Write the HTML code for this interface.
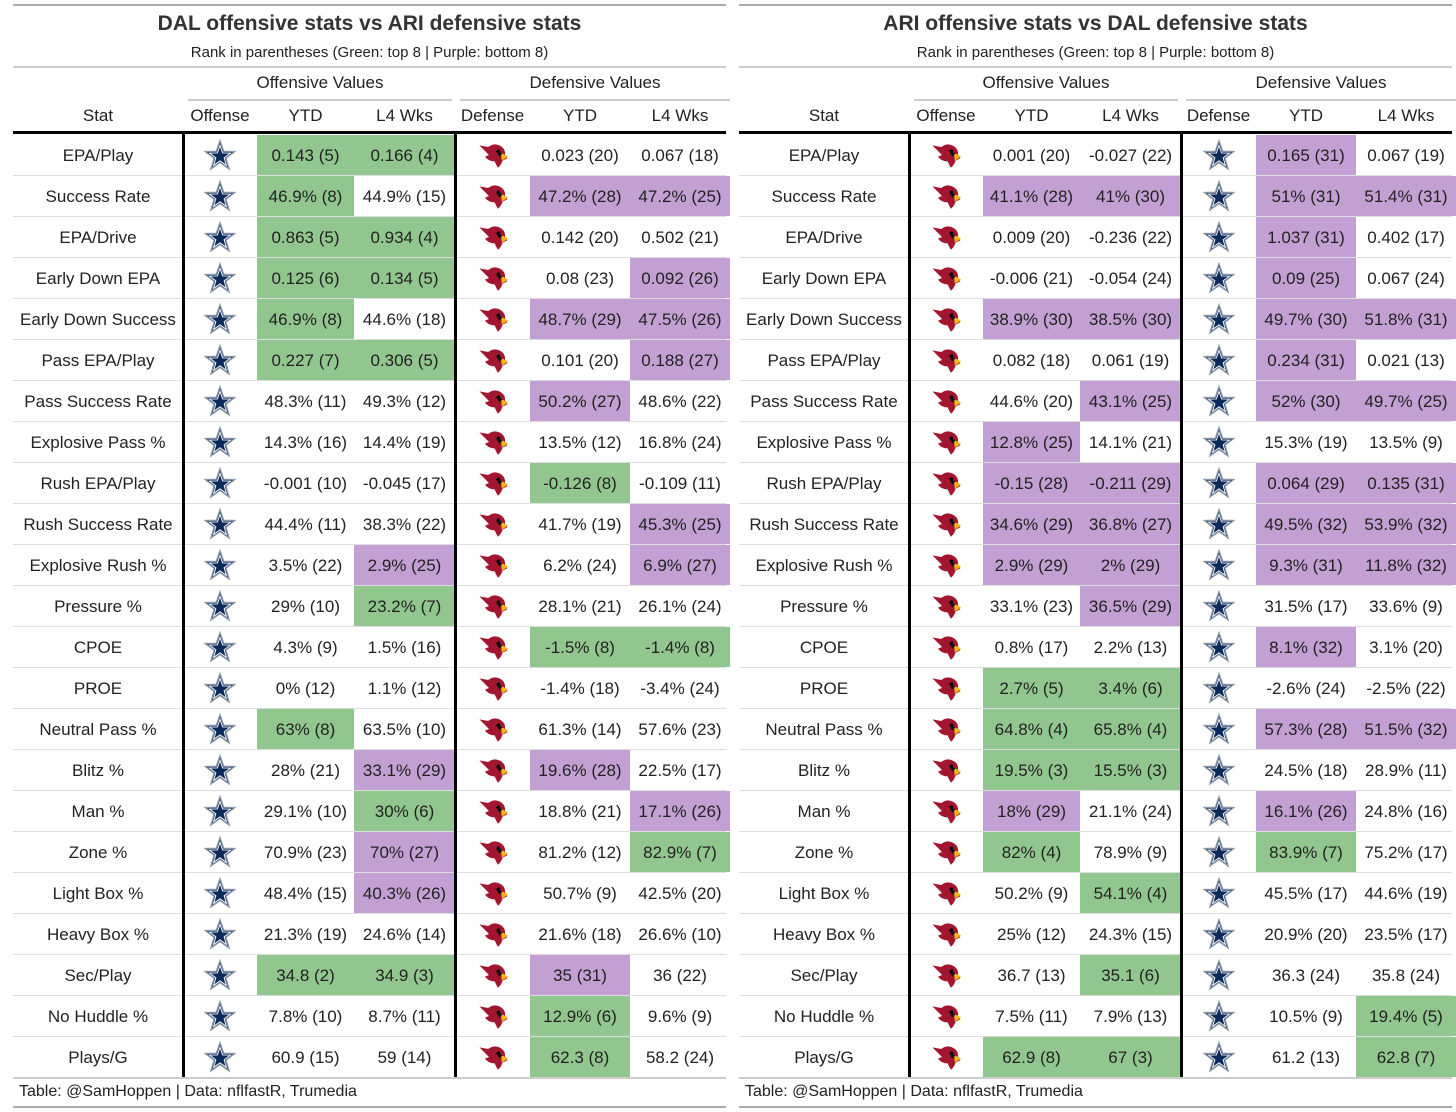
<!DOCTYPE html>
<html><head><meta charset="utf-8">
<style>
body{margin:0;width:1456px;height:1112px;background:#fff;overflow:hidden;font-family:"Liberation Sans",sans-serif;color:#222;position:relative}
.a{position:absolute;box-sizing:border-box}
.t{display:flex;align-items:center;justify-content:center;white-space:nowrap}
</style></head><body>
<svg width="0" height="0" style="position:absolute">
<defs>
<symbol id="star" viewBox="0 0 40 40"><polygon points="20,2 24.6,15.3 38.6,15.6 27.4,24.1 31.5,37.6 20,29.5 8.5,37.6 12.6,24.1 1.4,15.6 15.4,15.3" fill="#0b2a5b" stroke="#8a97a8" stroke-width="1.6"/><polygon points="20,8 23.2,17.4 33,17.6 25.2,23.5 28,33 20,27.3 12,33 14.8,23.5 7,17.6 16.8,17.4" fill="none" stroke="#fff" stroke-width="1.2"/></symbol>
<symbol id="card" viewBox="0 0 40 40"><path d="M3,8 L14,10 Q22,4 30,9 Q36,13 35,20 L38,24 L32,27 Q30,33 26,36 L22,28 Q14,28 10,22 L15,20 Z" fill="#a3162f"/><path d="M30,17 L39,22 L31,27 Z" fill="#f2b51a"/><circle cx="27" cy="15" r="2" fill="#000"/><path d="M23,14 L32,18 L28,22 Z" fill="#111"/></symbol>
</defs></svg>
<script>
const stats=["EPA/Play","Success Rate","EPA/Drive","Early Down EPA","Early Down Success","Pass EPA/Play","Pass Success Rate","Explosive Pass %","Rush EPA/Play","Rush Success Rate","Explosive Rush %","Pressure %","CPOE","PROE","Neutral Pass %","Blitz %","Man %","Zone %","Light Box %","Heavy Box %","Sec/Play","No Huddle %","Plays/G"];
const dalOffYtd=["0.143 (5)","46.9% (8)","0.863 (5)","0.125 (6)","46.9% (8)","0.227 (7)","48.3% (11)","14.3% (16)","-0.001 (10)","44.4% (11)","3.5% (22)","29% (10)","4.3% (9)","0% (12)","63% (8)","28% (21)","29.1% (10)","70.9% (23)","48.4% (15)","21.3% (19)","34.8 (2)","7.8% (10)","60.9 (15)"];
const dalOffL4=["0.166 (4)","44.9% (15)","0.934 (4)","0.134 (5)","44.6% (18)","0.306 (5)","49.3% (12)","14.4% (19)","-0.045 (17)","38.3% (22)","2.9% (25)","23.2% (7)","1.5% (16)","1.1% (12)","63.5% (10)","33.1% (29)","30% (6)","70% (27)","40.3% (26)","24.6% (14)","34.9 (3)","8.7% (11)","59 (14)"];
const ariDefYtd=["0.023 (20)","47.2% (28)","0.142 (20)","0.08 (23)","48.7% (29)","0.101 (20)","50.2% (27)","13.5% (12)","-0.126 (8)","41.7% (19)","6.2% (24)","28.1% (21)","-1.5% (8)","-1.4% (18)","61.3% (14)","19.6% (28)","18.8% (21)","81.2% (12)","50.7% (9)","21.6% (18)","35 (31)","12.9% (6)","62.3 (8)"];
const ariDefL4=["0.067 (18)","47.2% (25)","0.502 (21)","0.092 (26)","47.5% (26)","0.188 (27)","48.6% (22)","16.8% (24)","-0.109 (11)","45.3% (25)","6.9% (27)","26.1% (24)","-1.4% (8)","-3.4% (24)","57.6% (23)","22.5% (17)","17.1% (26)","82.9% (7)","42.5% (20)","26.6% (10)","36 (22)","9.6% (9)","58.2 (24)"];
const ariOffYtd=["0.001 (20)","41.1% (28)","0.009 (20)","-0.006 (21)","38.9% (30)","0.082 (18)","44.6% (20)","12.8% (25)","-0.15 (28)","34.6% (29)","2.9% (29)","33.1% (23)","0.8% (17)","2.7% (5)","64.8% (4)","19.5% (3)","18% (29)","82% (4)","50.2% (9)","25% (12)","36.7 (13)","7.5% (11)","62.9 (8)"];
const ariOffL4=["-0.027 (22)","41% (30)","-0.236 (22)","-0.054 (24)","38.5% (30)","0.061 (19)","43.1% (25)","14.1% (21)","-0.211 (29)","36.8% (27)","2% (29)","36.5% (29)","2.2% (13)","3.4% (6)","65.8% (4)","15.5% (3)","21.1% (24)","78.9% (9)","54.1% (4)","24.3% (15)","35.1 (6)","7.9% (13)","67 (3)"];
const dalDefYtd=["0.165 (31)","51% (31)","1.037 (31)","0.09 (25)","49.7% (30)","0.234 (31)","52% (30)","15.3% (19)","0.064 (29)","49.5% (32)","9.3% (31)","31.5% (17)","8.1% (32)","-2.6% (24)","57.3% (28)","24.5% (18)","16.1% (26)","83.9% (7)","45.5% (17)","20.9% (20)","36.3 (24)","10.5% (9)","61.2 (13)"];
const dalDefL4=["0.067 (19)","51.4% (31)","0.402 (17)","0.067 (24)","51.8% (31)","0.021 (13)","49.7% (25)","13.5% (9)","0.135 (31)","53.9% (32)","11.8% (32)","33.6% (9)","3.1% (20)","-2.5% (22)","51.5% (32)","28.9% (11)","24.8% (16)","75.2% (17)","44.6% (19)","23.5% (17)","35.8 (24)","19.4% (5)","62.8 (7)"];

function el(cls,x,y,w,h,style,name,text){
  const d=document.createElement('div');
  d.className='a '+cls;
  d.style.left=x+'px';d.style.top=y+'px';d.style.width=w+'px';d.style.height=h+'px';
  if(style)d.style.cssText+=style;
  
  
  if(text!==undefined)d.textContent=text;
  document.body.appendChild(d);return d;
}
function bg(s){const r=parseInt(s.match(/\((\d+)\)/)[1]);return r<=8?'#91c78e':(r>=25?'#c2a0d3':'transparent');}
const R0=135,RH=41;
function table(X,title,sub,offIcon,defIcon,oy,ol,dy,dl,key){
  const c=[X,X+170,X+244,X+341,X+442,X+517,X+617,X+717];
  el('',X,4,713,2,'background:#aaa','top-rule-'+key);
  el('t',X,8,713,32,'font-size:21px;font-weight:bold;color:#333','title-'+key,title);
  el('t',X,41,713,22,'font-size:15px;color:#222','subtitle-'+key,sub);
  el('',X,66,713,2,'background:#ccc','subtitle-rule-'+key);
  el('t',c[1]+5,71,c[4]-c[1]-8,24,'font-size:17px','spanner-offense-'+key,'Offensive Values');
  el('',c[1]+5,99,c[4]-c[1]-8,2,'background:#ccc','spanner-offense-rule-'+key);
  el('t',c[4]+5,71,c[7]-c[4]-5,24,'font-size:17px','spanner-defense-'+key,'Defensive Values');
  el('',c[4]+5,99,c[7]-c[4]-5,2,'background:#ccc','spanner-defense-rule-'+key);
  const hd=['Stat','Offense','YTD','L4 Wks','Defense','YTD','L4 Wks'];
  for(let i=0;i<7;i++) el('t',c[i],103,c[i+1]-c[i],26,'font-size:17px','col-header-'+key+'-'+i,hd[i]);
  el('',X,131,713,3,'background:#000','header-rule-'+key);
  for(let r=0;r<stats.length;r++){
    const y=R0+r*RH;
    el('',X,y+RH-1,713,1,'background:#ddd','row-rule-'+key);
    el('t',c[0],y,170,RH-1,'font-size:17px;padding-top:2px','stat-label',stats[r]);
    const vals=[oy[r],ol[r],dy[r],dl[r]],cols=[2,3,5,6];
    for(let k=0;k<4;k++){
      el('t',c[cols[k]],y,c[cols[k]+1]-c[cols[k]],RH-1,'font-size:17px;padding-top:2px;background:'+bg(vals[k]),'value-cell',vals[k]);
    }
    [[1,offIcon],[4,defIcon]].forEach(([ci,ic])=>{
      const d=el('t',c[ci],y,c[ci+1]-c[ci],RH-1,'','team-logo');
      d.innerHTML='<svg width="32" height="32"><use href="#'+ic+'"/></svg>';
    });
  }
  const end=R0+stats.length*RH;
  el('',c[1]-1,131,3,end-131,'background:#000','divider-offense-'+key);
  el('',c[4]-1,131,3,end-131,'background:#000','divider-defense-'+key);
  el('',X,end-1,713,2,'background:#ccc','bottom-rule-'+key);
  el('',X+6,end+3,700,22,'font-size:16px;display:flex;align-items:center','caption-'+key,'Table: @SamHoppen | Data: nflfastR, Trumedia');
  el('',X,1106,713,2,'background:#aaa','footer-rule-'+key);
}
table(13,'DAL offensive stats vs ARI defensive stats','Rank in parentheses (Green: top 8 | Purple: bottom 8)','star','card',dalOffYtd,dalOffL4,ariDefYtd,ariDefL4,'left');
table(739,'ARI offensive stats vs DAL defensive stats','Rank in parentheses (Green: top 8 | Purple: bottom 8)','card','star',ariOffYtd,ariOffL4,dalDefYtd,dalDefL4,'right');
</script>
</body></html>
